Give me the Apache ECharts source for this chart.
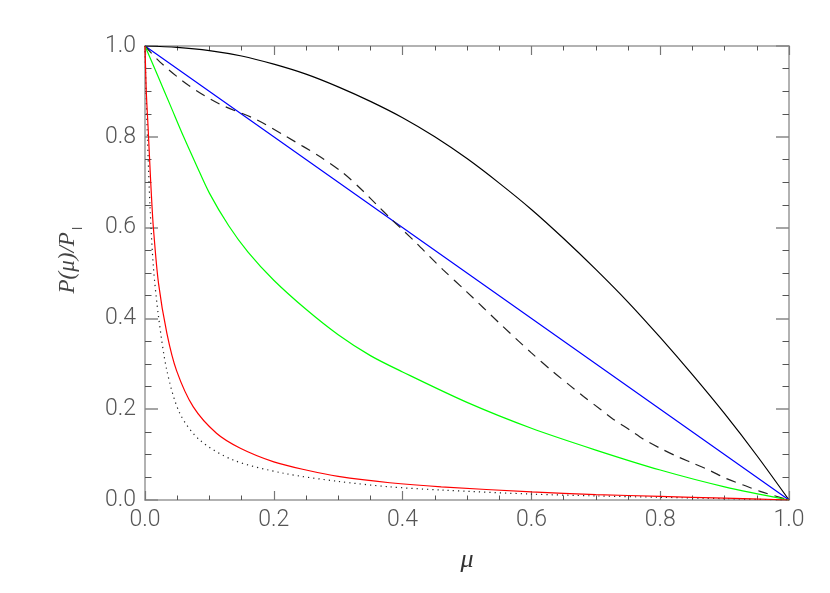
<!DOCTYPE html>
<html>
<head>
<meta charset="utf-8">
<script src="https://cdn.jsdelivr.net/npm/echarts@6/dist/echarts.min.js"></script>
<style>
html,body{margin:0;padding:0;background:#fff;}
#chart{width:830px;height:593px;}
</style>
</head>
<body>
<div id="chart"></div>
<script>
// x tick labels / y tick labels
const xTicks = [0.0, 0.2, 0.4, 0.6, 0.8, 1.0];
const yTicks = [0.0, 0.2, 0.4, 0.6, 0.8, 1.0];

// black solid curve
const muBlack = [0, 0.05, 0.1, 0.15, 0.2, 0.25, 0.3, 0.35, 0.4, 0.45, 0.5, 0.55, 0.6, 0.65, 0.7, 0.75, 0.8, 0.85, 0.9, 0.95, 1.0];
const pBlack  = [1.0, 0.997, 0.99, 0.978, 0.96, 0.938, 0.91, 0.878, 0.842, 0.8, 0.752, 0.698, 0.64, 0.576, 0.508, 0.436, 0.358, 0.276, 0.19, 0.098, 0.0];

// blue straight line
const muBlue = [0, 0.25, 0.5, 0.75, 1.0];
const pBlue  = [1.0, 0.75, 0.5, 0.25, 0.0];

// black dashed curve
const muDash = [0, 0.023, 0.067, 0.116, 0.173, 0.22, 0.272, 0.308, 0.339, 0.36, 0.38, 0.4, 0.422, 0.443, 0.463, 0.5, 0.55, 0.6, 0.634, 0.66, 0.681, 0.707, 0.727, 0.753, 0.774, 0.8, 0.826, 0.851, 0.877, 0.903, 0.929, 0.955, 1.0];
const pDash  = [1.0, 0.965, 0.914, 0.872, 0.838, 0.80, 0.756, 0.72, 0.68, 0.65, 0.622, 0.595, 0.565, 0.535, 0.507, 0.458, 0.39, 0.324, 0.282, 0.252, 0.228, 0.2, 0.178, 0.154, 0.134, 0.114, 0.096, 0.081, 0.065, 0.047, 0.033, 0.019, 0.0];

// green curve
const muGreen = [0, 0.02, 0.04, 0.06, 0.08, 0.1, 0.13, 0.16, 0.2, 0.25, 0.3, 0.35, 0.4, 0.5, 0.6, 0.7, 0.8, 0.9, 1.0];
const pGreen  = [1.0, 0.934, 0.867, 0.80, 0.737, 0.676, 0.604, 0.546, 0.484, 0.42, 0.364, 0.318, 0.282, 0.215, 0.158, 0.11, 0.066, 0.029, 0.0];

// red curve
const muRed = [0, 0.002, 0.005, 0.008, 0.01, 0.013, 0.021, 0.034, 0.049, 0.075, 0.111, 0.148, 0.2, 0.25, 0.3, 0.38, 0.46, 0.6, 0.7, 0.8, 0.9, 1.0];
const pRed  = [1.0, 0.9, 0.815, 0.725, 0.67, 0.6, 0.477, 0.367, 0.285, 0.205, 0.147, 0.114, 0.084, 0.066, 0.052, 0.038, 0.029, 0.018, 0.012, 0.008, 0.004, 0.0];

// black dotted curve
const muDot = [0, 0.002, 0.004, 0.008, 0.013, 0.021, 0.034, 0.054, 0.085, 0.137, 0.215, 0.3, 0.38, 0.46, 0.6, 0.7, 0.8, 0.9, 1.0];
const pDot  = [1.0, 0.88, 0.79, 0.64, 0.514, 0.404, 0.285, 0.191, 0.132, 0.088, 0.059, 0.041, 0.029, 0.022, 0.013, 0.009, 0.006, 0.003, 0.0];

const pairs = (xs, ys) => xs.map((x, i) => [x, ys[i]]);

const labelFont = {fontFamily: 'Roboto', fontWeight: 300, fontSize: 23, color: '#555'};
const axisLineStyle = {color: '#999', width: 1.5};

function xAx(pos, show) {
  return {
    type: 'value', position: pos, min: 0, max: 1, interval: 0.2,
    axisLine: {show: true, onZero: false, lineStyle: axisLineStyle},
    axisTick: {show: true, inside: true, length: 9, lineStyle: {color: '#777', width: 1.2}},
    minorTick: {show: true, splitNumber: 4, length: 4.5, lineStyle: {color: '#555', width: 1}},
    splitLine: {show: false}, minorSplitLine: {show: false},
    axisLabel: show ? Object.assign({margin: 9, formatter: v => v.toFixed(1)}, labelFont) : {show: false},
    name: show ? 'μ' : '',
    nameLocation: 'middle', nameGap: 47,
    nameTextStyle: {fontFamily: 'Liberation Serif', fontStyle: 'italic', fontSize: 26, color: '#333'}
  };
}
function yAx(pos, show) {
  return {
    type: 'value', position: pos, min: 0, max: 1, interval: 0.2,
    axisLine: {show: true, onZero: false, lineStyle: axisLineStyle},
    axisTick: {show: true, inside: true, length: 13, lineStyle: {color: '#888', width: 1.5}},
    minorTick: {show: true, splitNumber: 4, length: 6.5, lineStyle: {color: '#555', width: 1}},
    splitLine: {show: false}, minorSplitLine: {show: false},
    axisLabel: show ? Object.assign({margin: 9, formatter: v => v.toFixed(1)}, labelFont) : {show: false},
    name: show ? '{t|P(μ)/P}{s|l}' : '',
    nameLocation: 'middle', nameGap: 66, nameRotate: 90,
    nameTextStyle: {
      padding: [0, 0, 0, 26],
      rich: {
        t: {fontFamily: 'Liberation Serif', fontStyle: 'italic', fontSize: 23, color: '#444'},
        s: {fontFamily: 'DejaVu Sans', fontSize: 13, color: '#555', verticalAlign: 'bottom', padding: [0, 0, -6, 2]}
      }
    }
  };
}

function line(data, color, type, smooth) {
  return {
    type: 'line', xAxisIndex: 0, yAxisIndex: 0, data: data,
    showSymbol: false, symbol: 'none', smooth: smooth === undefined ? 0.3 : smooth,
    silent: true,
    lineStyle: {color: color, width: 1.2, type: type || 'solid'},
    z: 3
  };
}

const chart = echarts.init(document.getElementById('chart'), null, {renderer: 'canvas'});
chart.setOption({
  backgroundColor: '#fff',
  animation: false,
  grid: {left: 145, right: 41, top: 46, bottom: 93, containLabel: false},
  xAxis: [xAx('bottom', true), xAx('top', false)],
  yAxis: [yAx('left', true), yAx('right', false)],
  series: [
    line(pairs(muBlack, pBlack), '#000000'),
    line(pairs(muBlue, pBlue), '#0000ff', 'solid', false),
    line(pairs(muDash, pDash), '#222222', [10, 7]),
    line(pairs(muGreen, pGreen), '#00ff00'),
    line(pairs(muDot, pDot), '#222222', [1.2, 4]),
    line(pairs(muRed, pRed), '#ff0000')
  ]
});
</script>
</body>
</html>
